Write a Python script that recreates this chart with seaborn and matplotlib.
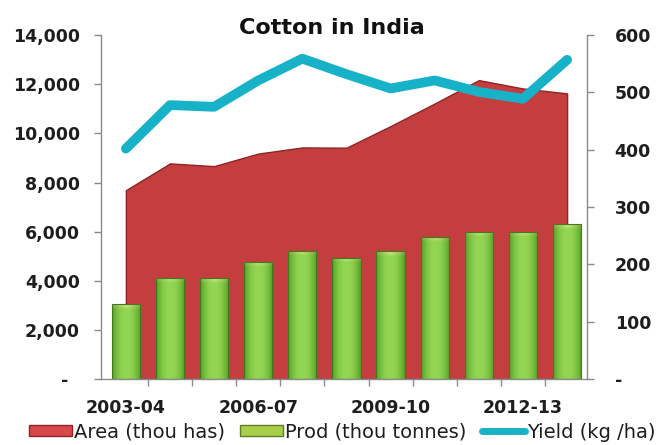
import numpy as np
import pandas as pd
import matplotlib
matplotlib.use("Agg")
import matplotlib.pyplot as plt
import seaborn as sns
from matplotlib.ticker import FixedLocator, FuncFormatter
from matplotlib.patches import Rectangle
from matplotlib.lines import Line2D

years = ["2003-04", "2004-05", "2005-06", "2006-07", "2007-08", "2008-09",
         "2009-10", "2010-11", "2011-12", "2012-13", "2013-14"]
area = [7690, 8780, 8670, 9180, 9430, 9420, 10300, 11220, 12170, 11830, 11630]
prod = [3040, 4130, 4100, 4780, 5220, 4950, 5200, 5780, 6000, 6000, 6300]
yld = [402, 478, 475, 521, 559, 532, 507, 521, 501, 489, 557]
left_ticks = [0, 2000, 4000, 6000, 8000, 10000, 12000, 14000]
right_ticks = [0, 100, 200, 300, 400, 500, 600]
shown_labels = ["2003-04", "2006-07", "2009-10", "2012-13"]

df = pd.DataFrame({"year": years, "area": area, "prod": prod, "yield": yld})
df["pos"] = np.arange(len(df))

sns.set_style("white")
plt.rcParams["font.family"] = ["DejaVu Sans"]

RED = "#c43e40"
RED_DARK = "#8f2325"
GREEN = "#7cc23e"
GREEN_DARK = "#3f7a1c"
CYAN = "#17b2c8"
SPINE = "#8a8a8a"
TXT = "#1e1e1e"

fig = plt.figure(figsize=(6.67, 4.45), dpi=100)
ax = fig.add_axes([0.151, 0.148, 0.729, 0.773])

# Area
ax.fill_between(df["pos"], 0, df["area"], color=RED, edgecolor=RED_DARK,
                linewidth=1.0, zorder=0.5)

# Bars
sns.barplot(data=df, x="pos", y="prod", ax=ax, color=GREEN, width=0.64,
            saturation=1, native_scale=True, zorder=2)

# gradient on bars
grad_x = np.abs(np.linspace(-1, 1, 40))
dark = np.array(matplotlib.colors.to_rgb("#52a024"))
light = np.array(matplotlib.colors.to_rgb("#93d653"))
hl = np.array(matplotlib.colors.to_rgb("#e2ec8a"))
for p in list(ax.patches):
    if not isinstance(p, Rectangle):
        continue
    x0, w, h = p.get_x(), p.get_width(), p.get_height()
    if h <= 0:
        continue
    hpx = int(h / 14000 * 344)
    t = grad_x[None, :, None] ** 2.2
    row = light * (1 - t) + dark * t
    img = np.repeat(row, hpx, axis=0)
    for r in range(min(5, hpx)):
        a = (1 - r / 5) * 0.85
        img[r] = img[r] * (1 - a) + hl * a * (1 - 0.3 * grad_x[:, None])
    im = ax.imshow(img, extent=[x0, x0 + w, 0, h], aspect="auto",
                   origin="upper", zorder=2.1, interpolation="bilinear")
    im.set_clip_path(p)
    p.set_facecolor("none")
    p.set_edgecolor(GREEN_DARK)
    p.set_linewidth(0.8)
    p.set_zorder(2.2)

ax.set_xlim(-0.57, 10.45)
ax.set_ylim(0, 14000)
ax.set_xlabel("")
ax.set_ylabel("")

# x ticks: marks at boundaries, labels every third category
ax.xaxis.set_major_locator(FixedLocator([i for i, y in enumerate(years) if y in shown_labels]))
ax.set_xticklabels(shown_labels)
ax.xaxis.set_minor_locator(FixedLocator(np.arange(0.5, len(years), 1.0)))
ax.tick_params(axis="x", which="major", length=0, pad=14, labelsize=12.5, colors=TXT)
ax.tick_params(axis="x", which="minor", length=5, width=1, color=SPINE, direction="out", bottom=True)
for lab in ax.get_xticklabels():
    lab.set_fontweight("bold")

ax.yaxis.set_major_locator(FixedLocator(left_ticks))
ax.yaxis.set_major_formatter(FuncFormatter(lambda v, _: "-  " if v == 0 else f"{int(v):,}"))
ax.tick_params(axis="y", length=5, width=1, color=SPINE, direction="out", left=True,
               pad=10, labelsize=12.5, labelcolor=TXT)
for lab in ax.get_yticklabels():
    lab.set_fontweight("bold")

for s in ["top", "right"]:
    ax.spines[s].set_visible(False)
for s in ["left", "bottom"]:
    ax.spines[s].set_color(SPINE)
    ax.spines[s].set_linewidth(1)

# Yield line on twin axis
ax2 = ax.twinx()
sns.lineplot(data=df, x="pos", y="yield", ax=ax2, color=CYAN, linewidth=7,
             solid_capstyle="round", solid_joinstyle="round", zorder=5)
ax2.set_ylim(0, 600)
ax2.set_xlim(-0.57, 10.45)
ax2.set_ylabel("")
ax2.set_xlabel("")
ax2.yaxis.set_major_locator(FixedLocator(right_ticks))
ax2.yaxis.set_major_formatter(FuncFormatter(lambda v, _: "-" if v == 0 else f"{int(v)}"))
ax2.tick_params(axis="y", length=5, width=1, color=SPINE, direction="out", right=True,
                pad=15, labelsize=12.5, labelcolor=TXT)
for lab in ax2.get_yticklabels():
    lab.set_fontweight("bold")
for s in ["top", "left", "bottom"]:
    ax2.spines[s].set_visible(False)
ax2.spines["right"].set_color(SPINE)
ax2.spines["right"].set_linewidth(1)

fig.text(0.498, 1 - 28 / 445, "Cotton in India", ha="center", va="center",
         fontsize=16, fontweight="heavy", color="#111111")

handles = [
    Rectangle((0, 0), 1, 1, facecolor="#d8484b", edgecolor=RED_DARK, linewidth=1),
    Rectangle((0, 0), 1, 1, facecolor="#a8cf4a", edgecolor="#5d7f22", linewidth=1),
    Line2D([0], [0], color=CYAN, linewidth=5),
]
labels = ["Area (thou has)", "Prod (thou tonnes)", "Yield (kg /ha)"]
fig.legend(handles, labels, loc="center", bbox_to_anchor=(0.513, 1 - 432 / 445), ncol=3,
           frameon=False, fontsize=14, handlelength=2.2, handleheight=0.45,
           handletextpad=0.1, columnspacing=0.8, labelcolor=TXT)

fig.savefig("out.png", dpi=100)
